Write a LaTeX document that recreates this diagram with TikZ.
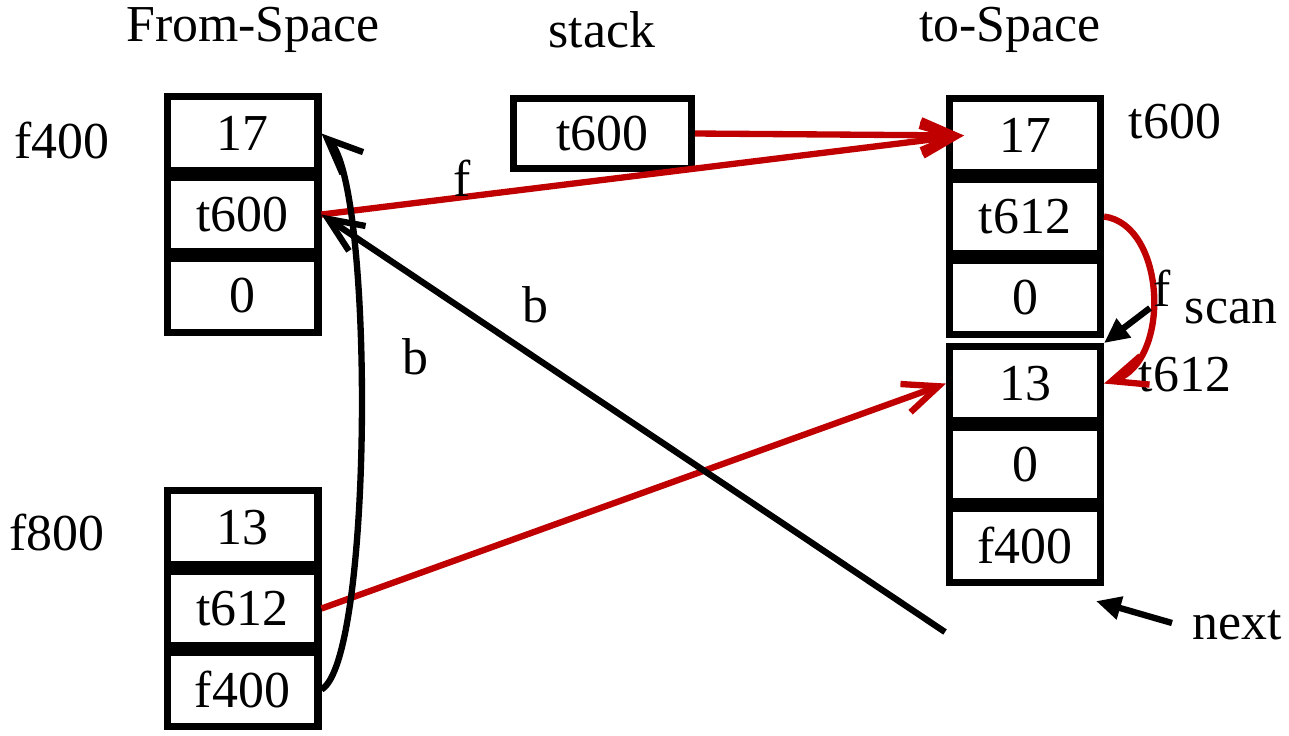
\documentclass[tikz,border=0pt]{standalone}
\usepackage{fontspec}
\setmainfont{Liberation Serif}
\usepackage{tikz}
\usetikzlibrary{arrows.meta,positioning}
\definecolor{ptred}{RGB}{192,0,0}

\begin{document}
\begin{tikzpicture}[x=0.02cm,y=-0.02cm,
  cell/.style={rectangle, draw=black, line width=4pt, minimum width=3.02cm, minimum height=1.48cm, inner sep=0pt, font=\fontsize{29.5}{35}\selectfont},
  txt/.style={font=\fontsize{29.5}{35}\selectfont, inner sep=0pt},
  fwd/.style={draw=ptred, line width=3.6pt, -{Straight Barb[length=0.7cm,width=0.6cm,line width=0pt 1]}},
  bptr/.style={draw=black, line width=3.6pt, -{Straight Barb[length=0.7cm,width=0.6cm,line width=0pt 1]}},
  solidptr/.style={draw=black, line width=3.6pt, -{Triangle[length=0.5cm,width=0.45cm]}}]
\useasboundingbox (0,0) rectangle (1289,735);

% headings
\node (hfrom) [txt] at (253,30) {From-Space};
\node (hstack) [txt] at (602,30) {stack};
\node (hto) [txt] at (1010,30) {to-Space};

% from-space objects
\node (f17) [cell] at (242.5,133.5) {17};
\node (ft600) [cell, below=0pt of f17] {t600};
\node (f0) [cell, below=0pt of ft600] {0};
\node (g13) [cell] at (242.5,527.5) {13};
\node (gt612) [cell, below=0pt of g13] {t612};
\node (gf400) [cell, below=0pt of gt612] {f400};
\node (af400) [txt] at (62,140) {f400};
\node (af800) [txt] at (57,532) {f800};

% stack
\node (s600) [cell, minimum width=3.56cm, minimum height=1.4cm] at (602.5,133.5) {t600};

% to-space objects
\node (t17) [cell] at (1025,135.5) {17};
\node (tt612) [cell, below=0pt of t17] {t612};
\node (t0) [cell, below=0pt of tt612] {0};
\node (t13) [cell, below=0.1cm of t0] {13};
\node (t0b) [cell, below=0pt of t13] {0};
\node (tf400) [cell, below=0pt of t0b] {f400};
\node (at600) [txt] at (1175,122) {t600};
\node (at612) [txt] at (1185,375) {t612};

% forwarding pointers
\draw [fwd] (s600.east) -- ([xshift=0.36cm]t17.west);
\draw [fwd] (ft600.east) -- ([xshift=0.36cm]t17.west);
\draw [fwd] (gt612.east) -- (t13.west);
\draw [fwd] (tt612.east) .. controls +(62,8) and +(68,-22) .. (t13.east);
\node (lf) [txt] at (462,178) {f};
\node (lf2) [txt] at (1162,288) {f};

% back pointers
\coordinate (bend) at (945,632);
\draw [bptr] (bend) -- (ft600.east);
\draw [bptr] (gf400.east) .. controls +(52,-30) and +(53,50) .. (f17.east);
\node (lb1) [txt] at (535,305) {b};
\node (lb2) [txt] at (415,357) {b};

% scan and next
\coordinate (scanfrom) at (1150,308);
\draw [solidptr] (scanfrom) -- (t13.north east);
\node (lscan) [txt] at (1231,312) {scan};
\coordinate (nextfrom) at (1172,623);
\draw [solidptr] (nextfrom) -- ([xshift=-0.16cm,yshift=-0.3cm]tf400.south east);
\node (lnext) [txt] at (1237,625) {next};
\end{tikzpicture}
\end{document}
